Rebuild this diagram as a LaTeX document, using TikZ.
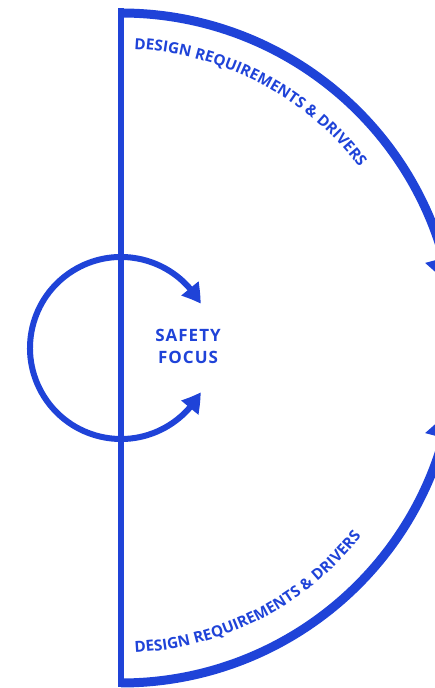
\documentclass[tikz,border=0pt]{standalone}
\usepackage{fontspec}
\setmainfont{Open Sans}
\usetikzlibrary{arrows.meta,bending,decorations.text}
\definecolor{mblue}{HTML}{1F43D8}
\begin{document}
\begin{tikzpicture}[x=1pt,y=1pt,
  frameline/.style={draw=mblue,line width=6pt},
  bigarc/.style={draw=mblue,line width=9pt,-{Triangle[width=36pt,length=30pt,bend]}},
  loop/.style={draw=mblue,line width=6pt,{Triangle[width=21pt,length=19pt,bend]}-{Triangle[width=21pt,length=19pt,bend]}},
  arctext/.style={decorate,decoration={text along path,text align=left,
     text color=mblue,
     text={|\bfseries\fontsize{15.3}{15.3}\selectfont|DESIGN REQUIREMENTS {\&} DRIVERS}}},
  label/.style={text=mblue,font=\bfseries\fontsize{17}{22}\selectfont\addfontfeatures{LetterSpace=6},align=center}]
\useasboundingbox (0,0) rectangle (435,688);
\clip (0,0) rectangle (435,688);
\coordinate (C) at (121,340);
\coordinate (T) at (121,679.5);
\coordinate (B) at (121,0.5);
\draw[frameline] (T) -- (B);
\path[bigarc] ([shift={(90:335)}]C) arc[start angle=90,end angle=10.5,radius=335];
\path[bigarc] ([shift={(-90:335)}]C) arc[start angle=-90,end angle=-10.5,radius=335];
\path[loop] ([shift={(29:91)}]C) arc[start angle=29,end angle=331,radius=91];
\path[arctext] ([shift={(87.5:299)}]C) arc[start angle=87.5,end angle=20,radius=299];
\path[arctext] ([shift={(-87.4:305)}]C) arc[start angle=-87.4,end angle=-20,radius=305];
\node[label] (sf) at (188,341.5) {SAFETY\\FOCUS};
\end{tikzpicture}
\end{document}
